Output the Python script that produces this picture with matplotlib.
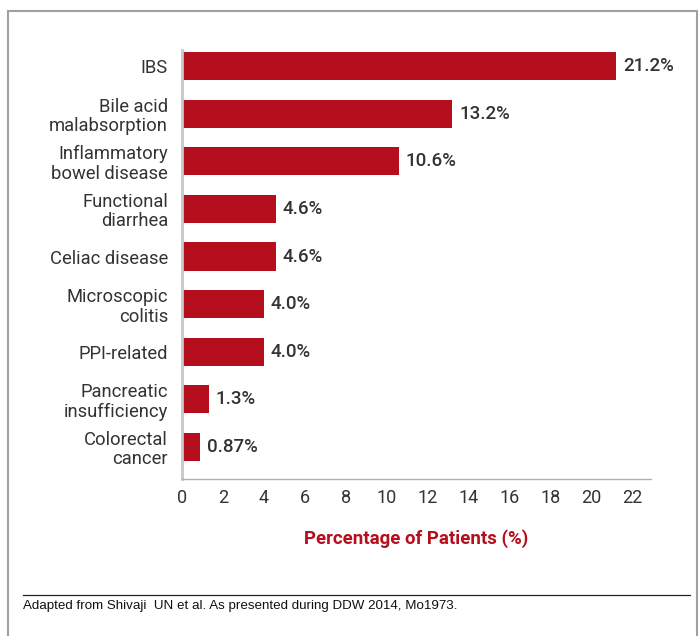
import matplotlib.pyplot as plt
from matplotlib.patches import Rectangle
from matplotlib.lines import Line2D

plt.rcParams['font.family'] = ['Roboto', 'DejaVu Sans']

categories = ["IBS", "Bile acid\nmalabsorption", "Inflammatory\nbowel disease",
              "Functional\ndiarrhea", "Celiac disease", "Microscopic\ncolitis",
              "PPI-related", "Pancreatic\ninsufficiency", "Colorectal\ncancer"]
values = [21.2, 13.2, 10.6, 4.6, 4.6, 4.0, 4.0, 1.3, 0.87]
value_labels = ["21.2%", "13.2%", "10.6%", "4.6%", "4.6%", "4.0%", "4.0%", "1.3%", "0.87%"]
xticks = list(range(0, 23, 2))

red = "#b50f1e"
dark = "#333333"

fig = plt.figure(figsize=(7, 6.36), dpi=100)
ax = fig.add_axes([0.26, 0.2469, 0.67, 0.6745])

ypos = list(range(len(categories)))
ax.barh(ypos, values, height=0.59, color=red)
for y, v, lab in zip(ypos, values, value_labels):
    ax.text(v + 0.33, y, lab, va='center', ha='left', fontsize=13.5,
            color=dark, fontweight='medium')

ax.set_xlim(0, 22.9)
ax.set_ylim(8.67, -0.336)
ax.set_yticks(ypos)
ax.set_yticklabels(categories, fontsize=13.2, color=dark, linespacing=1.1)
ax.set_xticks(xticks)
ax.set_xticklabels([str(t) for t in xticks], fontsize=13, color=dark)
ax.tick_params(axis='y', length=0, pad=10)
ax.tick_params(axis='x', length=0, pad=7)
for s in ['top', 'right']:
    ax.spines[s].set_visible(False)
ax.spines['left'].set_color('#c8c8c8')
ax.spines['left'].set_linewidth(2)
ax.spines['bottom'].set_color('#b0b0b0')
ax.spines['bottom'].set_linewidth(1)
ax.set_xlabel("Percentage of Patients (%)", fontsize=13.4, color=red,
              fontweight='bold', labelpad=16)

# outer frame and footnote
fig.patches.append(Rectangle((8 / 700, -0.05), 689 / 700, 1.05 - 11 / 636,
                             transform=fig.transFigure, fill=False,
                             edgecolor='#a0a0a0', linewidth=1.5))
fig.lines.append(Line2D([23 / 700, 690 / 700], [1 - 595 / 636, 1 - 595 / 636],
                        transform=fig.transFigure, color='#222222', linewidth=0.9))
fig.text(23 / 700, 1 - 606 / 636, "Adapted from Shivaji  UN et al. As presented during DDW 2014, Mo1973.",
         fontsize=9.6, family='Liberation Sans', color='#111111', va='center', ha='left')

fig.savefig("out.png", dpi=100)
